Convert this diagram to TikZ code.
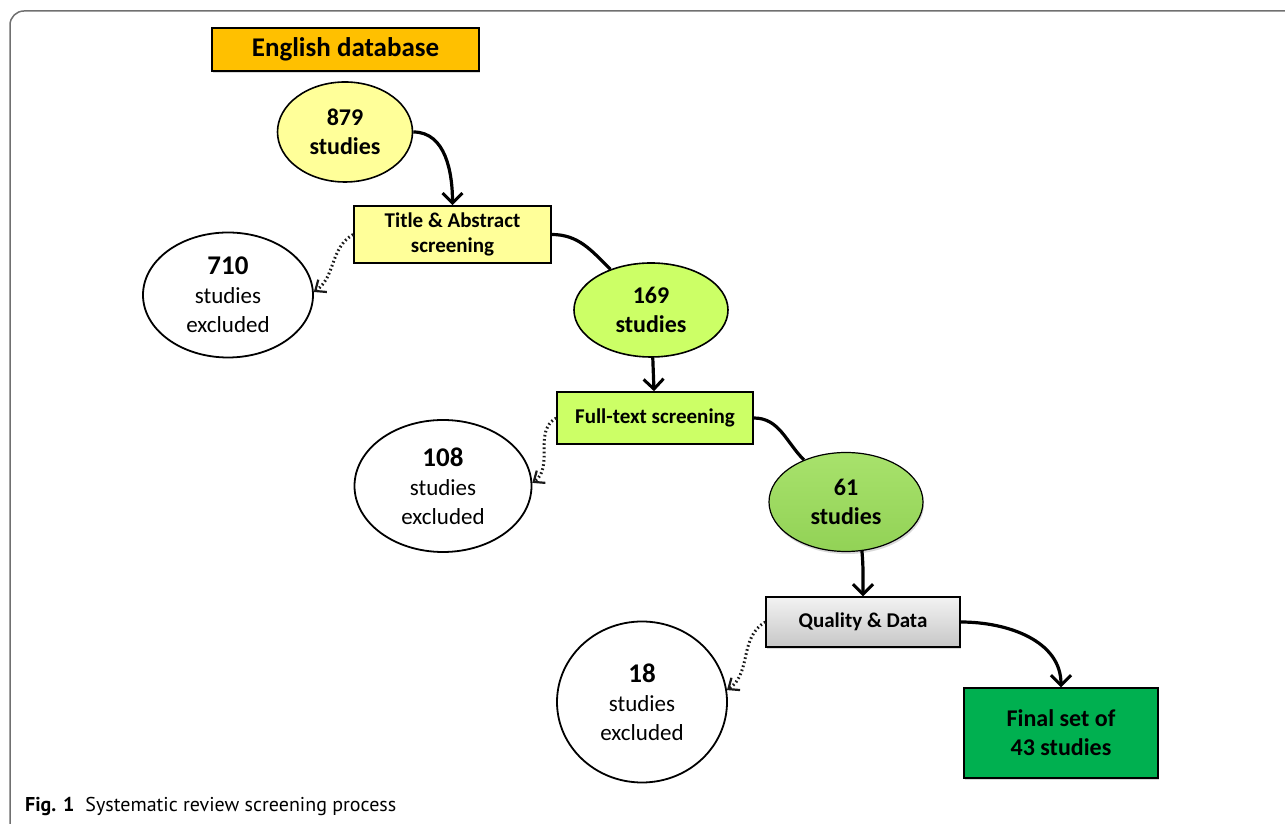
\documentclass[tikz,border=0pt]{standalone}
\usepackage{fontspec}
\setmainfont{Carlito}
\newfontfamily\capfont{PT Sans}
\usetikzlibrary{shapes.geometric,arrows.meta,shadows,positioning}

\definecolor{dbOrange}{HTML}{FFC000}
\definecolor{paleYellow}{HTML}{FFFF99}
\definecolor{limeGreen}{HTML}{CCFF66}
\definecolor{midGreenTop}{HTML}{A8E26C}
\definecolor{midGreenBot}{HTML}{92D256}
\definecolor{finalGreen}{HTML}{00B050}
\definecolor{frameGray}{HTML}{707070}

\begin{document}
\begin{tikzpicture}[x=1pt,y=1pt,
	stage/.style={draw,line width=1.6pt,inner sep=0pt,align=center,font=\fontsize{21}{25}\selectfont\bfseries},
	count/.style={ellipse,draw,line width=1.6pt,inner sep=0pt,align=center,font=\fontsize{24}{29}\selectfont\bfseries},
	excluded/.style={ellipse,draw,line width=1.8pt,fill=white,inner sep=0pt,align=center,font=\fontsize{23}{29}\selectfont},
	soft/.style={drop shadow={shadow xshift=1pt,shadow yshift=-2.5pt,opacity=0.3}},
	flow/.style={line width=3.2pt,-{Straight Barb[length=10pt,width=20pt,line width=3pt]}},
	drop/.style={line width=3pt,black!90,dash pattern=on 1.6pt off 2.6pt,-{Straight Barb[length=9pt,width=15pt,line width=2.2pt]}}]
	\useasboundingbox (0,0) rectangle (1285,824);
	\draw[frameGray,line width=1.5pt,rounded corners=14pt] (10,-40) rectangle (1330,813);

	\node[stage,soft,fill=dbOrange,minimum width=267pt,minimum height=43pt,font=\fontsize{27}{30}\selectfont\bfseries] (EnglishDb) at (345.5,774.5) {English database};
	\node[count,fill=paleYellow,minimum width=135pt,minimum height=100pt]    (AllStudies)  at (345,692)   {879\\ studies};
	\node[stage,fill=paleYellow,minimum width=197pt,minimum height=57pt]     (TitleAbs)    at (452.5,589.5) {Title \& Abstract\\ screening};
	\node[excluded,minimum width=170pt,minimum height=125pt]                 (ExclTitle)   at (228,529)   {{\fontsize{27}{29}\selectfont\bfseries 710}\\ studies\\ excluded};
	\node[count,fill=limeGreen,minimum width=154pt,minimum height=94pt]      (Studies169)  at (651,514)   {169\\ studies};
	\node[stage,fill=limeGreen,minimum width=196pt,minimum height=52pt]      (FullText)    at (655,406)   {Full-text screening};
	\node[excluded,minimum width=177pt,minimum height=132pt]                 (ExclFull)    at (443,338)   {{\fontsize{27}{29}\selectfont\bfseries 108}\\ studies\\ excluded};
	\node[count,soft,line width=1.2pt,top color=midGreenTop,bottom color=midGreenBot,minimum width=154pt,minimum height=99pt] (Studies61) at (846,322) {61\\ studies};
	\node[stage,soft,line width=1.3pt,top color=black!5,bottom color=black!22,minimum width=194pt,minimum height=50pt] (Quality) at (863,202) {Quality \& Data};
	\node[excluded,minimum width=170pt,minimum height=161pt]                 (ExclQuality) at (642,122)   {{\fontsize{27}{29}\selectfont\bfseries 18}\\ studies\\ excluded};
	\node[stage,soft,line width=1.3pt,fill=finalGreen,minimum width=194pt,minimum height=90pt,font=\fontsize{24}{29}\selectfont\bfseries] (FinalSet) at (1061,91) {Final set of\\ 43 studies};

	\node[anchor=base west,inner sep=0pt,font=\capfont\fontsize{20}{22}\selectfont] (Caption) at (25,12) {\textbf{Fig. 1}\hspace{0.55em}Systematic review screening process};

	\path[flow] (AllStudies)     edge[out=0,in=90]    (TitleAbs)
				(TitleAbs)       edge[-,out=0,in=135] (Studies169)
				(Studies169)     edge                 (FullText)
				(FullText)       edge[-,out=0,in=135] (Studies61)
				(Studies61.-72)  edge[out=-85,in=90]  (Quality)
				(Quality)        edge[out=0,in=90]    (FinalSet);
	\path[drop] (TitleAbs.west)  edge[out=210,in=35] (ExclTitle.2)
				(FullText.west)  edge[out=210,in=35] (ExclFull.2)
				(Quality.west)   edge[out=210,in=35] (ExclQuality.8);
\end{tikzpicture}
\end{document}
